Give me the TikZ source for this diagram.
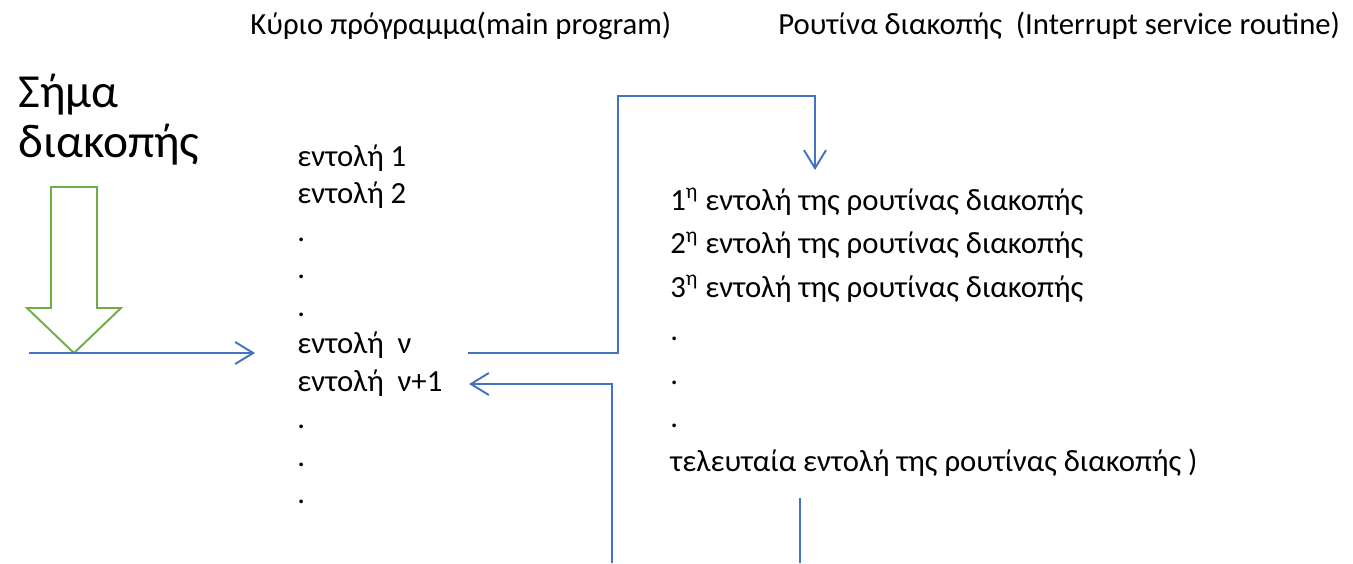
\documentclass[tikz,border=0pt]{standalone}
\usepackage{fontspec}
\setmainfont{Carlito}
\usepackage{xcolor}
\usetikzlibrary{arrows.meta}

\definecolor{msblue}{HTML}{4472C4}
\definecolor{msgreen}{HTML}{70AD47}

\tikzset{
  txt/.style={anchor=base west, inner sep=0pt, font=\fontsize{17.5pt}{21pt}\selectfont},
  bigtxt/.style={anchor=base west, inner sep=0pt, font=\fontsize{27pt}{32pt}\selectfont},
  link/.style={draw=msblue, line width=0.75pt},
  linkthick/.style={draw=msblue, line width=1.1pt},
  tip/.style={-{Straight Barb[length=3.6mm, width=4.4mm, line width=1.1pt]}}
}

\begin{document}
\begin{tikzpicture}[x=0.2mm, y=-0.2mm]
    \useasboundingbox (0,0) rectangle (1353,563);

    % Titles
    \node[txt] (mainttl) at (250,34) {Κύριο πρόγραμμα(main program)};
    \node[txt] (isrttl) at (778,34) {Ρουτίνα διακοπής~ (Interrupt service routine)};

    % Interrupt signal
    \node[bigtxt] (sig1) at (18,107) {Σήμα};
    \node[bigtxt] (sig2) at (18,157) {διακοπής};
    \draw[msgreen, line width=1.1pt, line join=miter]
      (51,187) -- (97,187) -- (97,308) -- (121,308) -- (74,353)
      -- (27,308) -- (51,308) -- cycle;

    % Main program
    \node[txt] (cmd1) at (297,166) {εντολή 1};
    \node[txt] (cmd2) at (297,203.5) {εντολή 2};
    \foreach \y [count=\i] in {241, 278.5, 316}
      \node[txt] (dotA\i) at (297,\y) {.};
    \node[txt] (cmdn) at (297,353.5) {εντολή~ ν};
    \node[txt] (cmdnn) at (297,391) {εντολή~ ν+1};
    \foreach \y [count=\i] in {428.5, 466, 503.5}
      \node[txt] (dotB\i) at (297,\y) {.};

    % Interrupt service routine
    \node[txt] (isr1) at (670,210) {1\textsuperscript{η} εντολή της ρουτίνας διακοπής};
    \node[txt] (isr2) at (670,253.5) {2\textsuperscript{η} εντολή της ρουτίνας διακοπής};
    \node[txt] (isr3) at (670,297) {3\textsuperscript{η} εντολή της ρουτίνας διακοπής};
    \foreach \y [count=\i] in {340.5, 384, 427.5}
      \node[txt] (dotC\i) at (670,\y) {.};
    \node[txt] (isrlast) at (670,471) {τελευταία εντολή της ρουτίνας διακοπής )};

    % Connectors
    \coordinate (sigin) at (29,353);
    \coordinate (sigout) at (255,353);
    \coordinate (jmpout) at (468,353);
    \coordinate (jmpin) at (815,170);
    \coordinate (retin) at (469,384);
    \coordinate (retbot) at (612,563);
    \coordinate (endtop) at (800,498);
    \coordinate (endbot) at (800,563);

    \draw[linkthick, tip] (sigin) -- (sigout);
    \draw[link, tip] (jmpout) -- (618,353) -- (618,96) -- (815,96) -- (jmpin);
    \draw[linkthick, tip] (retbot) -- (612,384) -- (retin);
    \draw[link] (endtop) -- (endbot);
\end{tikzpicture}
\end{document}
